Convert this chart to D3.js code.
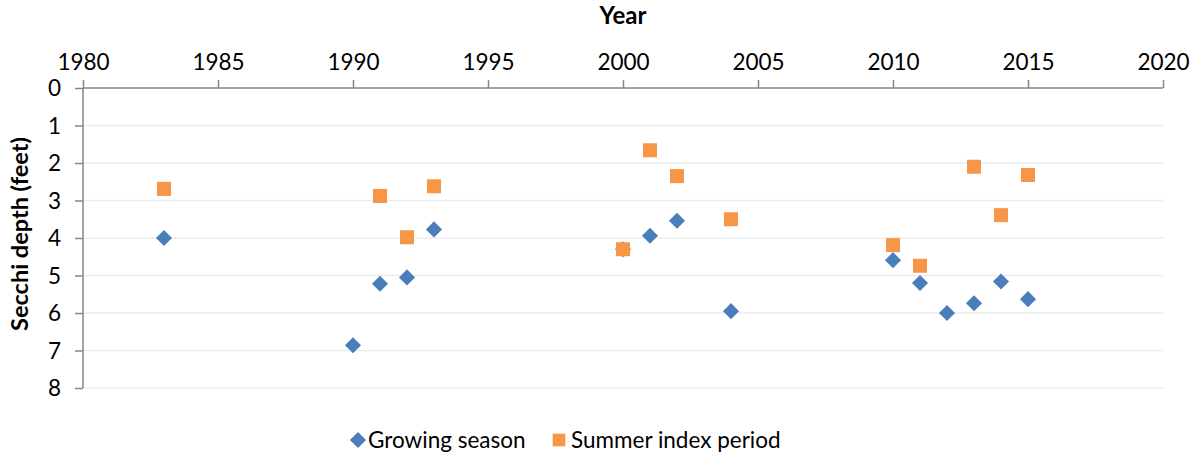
<!DOCTYPE html>
<html>
<head>
<meta charset="utf-8">
<script src="https://cdn.jsdelivr.net/npm/d3@7"></script>
<style>
  body { margin: 0; background: #fff; }
  text { font-family: Lato, "Open Sans", sans-serif; fill: #000; }
</style>
</head>
<body>
<svg id="chart" width="1200" height="459"></svg>
<script>
// data
var years = [1983, 1990, 1991, 1992, 1993, 2000, 2001, 2002, 2004, 2010, 2011, 2012, 2013, 2014, 2015];
var growingSeason = [4.0, 6.86, 5.22, 5.05, 3.77, 4.3, 3.94, 3.54, 5.95, 4.59, 5.2, 6.0, 5.74, 5.16, 5.63];
var summerYears = [1983, 1991, 1992, 1993, 2000, 2001, 2002, 2004, 2010, 2011, 2013, 2014, 2015];
var summerIndex = [2.69, 2.88, 3.98, 2.62, 4.3, 1.66, 2.35, 3.5, 4.19, 4.74, 2.1, 3.39, 2.32];
var xTicks = [1980, 1985, 1990, 1995, 2000, 2005, 2010, 2015, 2020];
var yTicks = [0, 1, 2, 3, 4, 5, 6, 7, 8];
var seriesNames = ["Growing season", "Summer index period"];

var blue = "#4a7ebb", orange = "#f79646";

var svg = d3.select("#chart");
var margin = {left: 83, right: 37, top: 88, bottom: 71};
var width = 1200 - margin.left - margin.right,
    height = 459 - margin.top - margin.bottom;

var x = d3.scaleLinear().domain([1980, 2020]).range([0, width]);
var y = d3.scaleLinear().domain([0, 8]).range([0, height]);

var g = svg.append("g").attr("transform", "translate(" + margin.left + "," + margin.top + ")");

// gridlines
g.selectAll(".grid").data(yTicks.slice(1)).enter().append("line")
  .attr("x1", 0).attr("x2", width)
  .attr("y1", function(d) { return y(d); }).attr("y2", function(d) { return y(d); })
  .attr("stroke", "#ececec").attr("stroke-width", 1.3);

// axes
var xAxis = g.append("g")
  .call(d3.axisTop(x).tickValues(xTicks).tickFormat(d3.format("d")).tickSize(8).tickPadding(10));
var yAxis = g.append("g")
  .call(d3.axisLeft(y).tickValues(yTicks).tickSize(8).tickPadding(14));

[xAxis, yAxis].forEach(function(a) {
  a.select(".domain").attr("stroke", "#868686").attr("stroke-width", 1.5);
  a.selectAll(".tick line").attr("stroke", "#868686").attr("stroke-width", 1.5);
  a.selectAll(".tick text").style("font-size", "22.5px").style("font-family", "Lato, sans-serif").attr("fill", "#000");
});
xAxis.select(".domain").attr("d", "M0,0H" + width);
yAxis.select(".domain").attr("d", "M0,0V" + height);
yAxis.selectAll(".tick text").attr("dy", "0.35em");

// axis titles
svg.append("text").attr("x", margin.left + width / 2).attr("y", 24)
  .attr("text-anchor", "middle").style("font-size", "24px").style("font-weight", "bold").text("Year");
svg.append("text").attr("transform", "translate(28,234) rotate(-90)")
  .attr("text-anchor", "middle").style("font-size", "23.5px").style("font-weight", "bold").text("Secchi depth (feet)");

var diamond = d3.symbol().type(d3.symbolDiamond2).size(165);
var square = d3.symbol().type(d3.symbolSquare).size(196);

// series
g.selectAll(".gs").data(years).enter().append("path")
  .attr("d", diamond)
  .attr("transform", function(d, i) { return "translate(" + x(d) + "," + y(growingSeason[i]) + ")"; })
  .attr("fill", blue);

g.selectAll(".si").data(summerYears).enter().append("path")
  .attr("d", square)
  .attr("transform", function(d, i) { return "translate(" + x(d) + "," + y(summerIndex[i]) + ")"; })
  .attr("fill", orange);

// legend
var legend = svg.append("g").attr("transform", "translate(0,440)");
legend.append("path").attr("d", diamond).attr("transform", "translate(358,0)").attr("fill", blue);
legend.append("text").attr("x", 368).attr("y", 0).attr("dy", "0.35em").style("font-size", "22.5px").text(seriesNames[0]);
legend.append("path").attr("d", d3.symbol().type(d3.symbolSquare).size(160)).attr("transform", "translate(559,0)").attr("fill", orange);
legend.append("text").attr("x", 571).attr("y", 0).attr("dy", "0.35em").style("font-size", "22.5px").text(seriesNames[1]);
</script>
</body>
</html>
